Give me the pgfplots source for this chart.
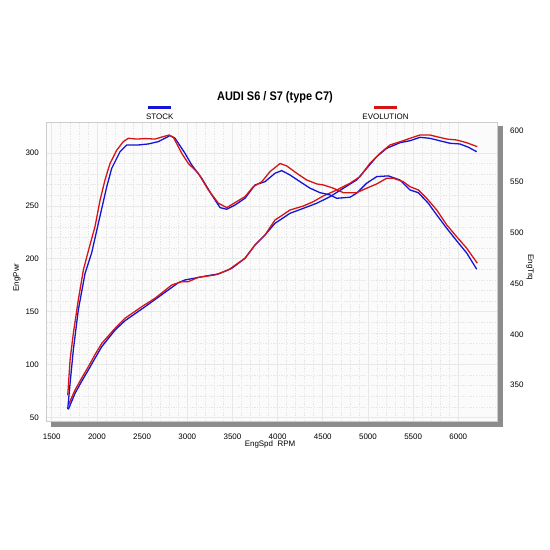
\documentclass[border=0pt]{standalone}
\usepackage{fontspec}
\setmainfont{Liberation Sans}
\newfontfamily\titlefont[FakeStretch=0.88]{Liberation Sans}
\usepackage{pgfplots}
\pgfplotsset{compat=1.18}
\definecolor{stockblue}{RGB}{20,20,215}
\definecolor{evored}{RGB}{215,20,20}
\newcommand{\tf}{\fontsize{8}{9}\selectfont}
\begin{document}
\begin{tikzpicture}[x=1bp,y=1bp]
\path[use as bounding box] (0,0) rectangle (550,550);
\fill[black!45] (51,123) rectangle (503,424);
\begin{axis}[
  at={(46.5bp,129bp)}, anchor=south west, scale only axis,
  width=451bp, height=299bp,
  xmin=1442, xmax=6434, ymin=46.7, ymax=329.3,
  axis background/.style={fill=black!1.5},
  axis line style={draw=black!20},
  xtick={1500,2000,...,6000}, ytick={50,100,...,300},
  xtick pos=bottom, ytick pos=left,
  major tick length=0pt, minor tick length=0pt,
  minor x tick num=4, minor y tick num=4,
  grid=both,
  major grid style={draw=black!9, line width=0.6bp},
  minor grid style={draw=black!10, line width=0.6bp, dash pattern=on 1.3bp off 1.4bp},
  /pgf/number format/assume math mode=true,
  /pgf/number format/1000 sep={},
  xticklabel style={font=\tf, anchor=north, inner sep=0pt, yshift=-12.5bp},
  yticklabel style={font=\tf, anchor=east, inner sep=0pt, xshift=-7.5bp},
  every axis plot/.append style={line width=1.3bp},
]
% STOCK power
\addplot[stockblue] coordinates {
(1684,57.7) (1758,72.9) (1830,84) (1905,94.9) (1979,106) (2053,116.9) (2201,132.7) (2311,141.5) (2533,154.7)
(2700,165) (2901,177.4) (2975,180) (3100,182) (3271,184.7) (3344,185.6) (3492,191)
(3639,200.5) (3750,213) (3861,222.5) (3971,233.6) (4027,236.7) (4137,243) (4285,247.7)
(4433,252.5) (4580,258.7) (4727,266.6) (4875,274.5) (4986,285.5) (5097,296.5) (5207,304.4)
(5354,309.7) (5465,311.6) (5576,314.8) (5686,313.9) (5797,311.5) (5908,309.2) (6019,308.5)
(6110,305.5) (6204,301.2)};
% EVOLUTION power
\addplot[evored] coordinates {
(1684,61.8) (1758,76) (1830,87) (1905,98) (1979,109.5) (2053,120) (2201,134.3) (2311,143.8) (2496,154.7)
(2643,162.7) (2828,175.2) (2939,178.4) (3012,178.4) (3122,182.5) (3307,184.7) (3454,189.4)
(3639,200.5) (3750,213) (3861,222.5) (3971,236.7) (4027,239.8) (4137,246.1) (4285,249.9)
(4395,254) (4506,259.4) (4654,265) (4801,271.4) (4912,277.6) (5023,290.3) (5133,299.7)
(5244,307.6) (5391,311.6) (5465,313.9) (5576,317) (5686,317) (5761,315.4) (5872,313.2)
(5982,312.3) (6093,309.7) (6210,306)};
\end{axis}
\begin{axis}[
  at={(46.5bp,129bp)}, anchor=south west, scale only axis,
  width=451bp, height=299bp,
  xmin=1442, xmax=6434, ymin=314.8, ymax=608.8,
  axis x line=none, axis y line*=right,
  axis line style={draw=black!20},
  ytick={350,400,...,600},
  major tick length=0pt, minor tick length=0pt,
  /pgf/number format/assume math mode=true,
  yticklabel style={font=\tf, anchor=west, inner sep=0pt, xshift=12.5bp},
  every axis plot/.append style={line width=1.3bp},
]
% STOCK torque
\addplot[stockblue] coordinates {
(1677,326.4) (1703,351.9) (1739,384.7) (1794,424) (1869,460) (1943,480.5) (2016,509.2) (2109,545.2)
(2164,563.3) (2256,579.6) (2330,586.2) (2458,586.2) (2569,587.2) (2680,589.5) (2809,595.4)
(2865,592.8) (2975,578) (3049,566.6) (3160,553.5) (3271,537.1) (3363,524.6) (3437,523)
(3529,527.2) (3639,533.8) (3750,546.9) (3861,550.1) (3971,558.4) (4045,561) (4137,556.7)
(4248,550.1) (4359,543.7) (4469,539.3) (4580,537.1) (4654,533.8) (4801,534.8) (4875,538.8)
(4986,548.6) (5097,555.1) (5225,555.8) (5354,551.8) (5465,542) (5557,539.3) (5668,528.9)
(5761,517.4) (5872,504.3) (5982,492) (6093,480) (6204,464)};
% EVOLUTION torque
\addplot[evored] coordinates {
(1677,340) (1703,374.8) (1739,401) (1794,433.8) (1850,463.3) (1905,482) (1979,506) (2035,532)
(2090,552) (2145,568) (2219,581) (2292,589.5) (2348,592.8) (2440,592) (2533,592.5)
(2643,592) (2735,594.4) (2798,596) (2846,593.8) (2939,578) (3012,568) (3122,558.4)
(3233,542) (3344,529) (3437,524.6) (3547,530.5) (3639,535.4) (3731,545.2) (3824,550)
(3916,560) (4027,568) (4101,565.6) (4211,558.4) (4322,551.8) (4433,547.9) (4506,546.9)
(4617,543.7) (4727,539.3) (4875,539.3) (4986,543.7) (5097,547.9) (5207,553.5) (5281,553.5)
(5391,550.1) (5465,545.2) (5557,542) (5650,533.8) (5761,522.3) (5872,507.6) (5982,496)
(6093,484.7) (6210,470)};
\end{axis}
\node[font=\titlefont\bfseries\fontsize{12.5}{14}\selectfont] at (275,453) {AUDI S6 / S7 (type C7)};
\draw[stockblue, line width=3bp] (148.3,442.3) -- (171,442.3);
\node[font=\tf] at (159.7,433.3) {STOCK};
\draw[evored, line width=3bp] (374,442.3) -- (397,442.3);
\node[font=\tf] at (385.5,433.3) {EVOLUTION};
\node[font=\tf] at (270,106) {EngSpd\ \ RPM};
\node[font=\tf, rotate=90] at (17,272.5) {EngPwr};
\node[font=\tf, rotate=-90] at (530,282.5) {EngTrq};
\end{tikzpicture}
\end{document}
